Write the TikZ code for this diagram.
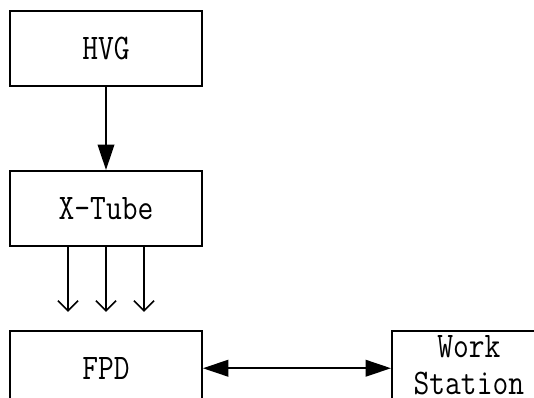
\documentclass[tikz,border=0pt]{standalone}
\usepackage{fontspec}
\setmonofont{Latin Modern Mono}[FakeStretch=0.85]
\usepackage{tikz}
\usetikzlibrary{arrows.meta, positioning}

\begin{document}
\begin{tikzpicture}[
  x=0.75pt, y=-0.75pt,
  node distance=62.25pt,
  every node/.style={font=\ttfamily\fontsize{27}{27.75}\selectfont},
  box/.style={draw, line width=1.4pt, minimum width=144pt, minimum height=56.25pt,
              inner sep=0pt, align=center},
  wsbox/.style={box, minimum width=115.5pt},
  feed/.style={draw, line width=1.2pt, -{Triangle[length=19pt, width=12.5pt]}},
  link/.style={draw, line width=1.2pt, {Triangle[length=19pt, width=12.5pt]}-{Triangle[length=19pt, width=12.5pt]}},
  ray/.style={draw, line width=1.2pt, -{Straight Barb[length=7.5pt, width=15pt, line width=1.2pt]}},
]
\useasboundingbox (0,0) rectangle (534,398);

\node[box] (hvg) at (106,48.5) {HVG};
\node[box, below=of hvg] (tube) {X-Tube};
\node[box, below=of tube] (fpd) {FPD};
\node[wsbox, right=141pt of fpd] (ws)
  {\raisebox{4.5pt}{\begin{tabular}{@{}c@{}}Work\\Station\end{tabular}}};

% connectors
\draw[feed] (hvg) -- (tube);
\foreach \s in {-28.5pt, 0pt, 28.5pt}
  \draw[ray] ([xshift=\s]tube.south) -- ([xshift=\s, yshift=13.5pt]fpd.north);
\draw[link] (fpd) -- (ws);
\end{tikzpicture}
\end{document}
